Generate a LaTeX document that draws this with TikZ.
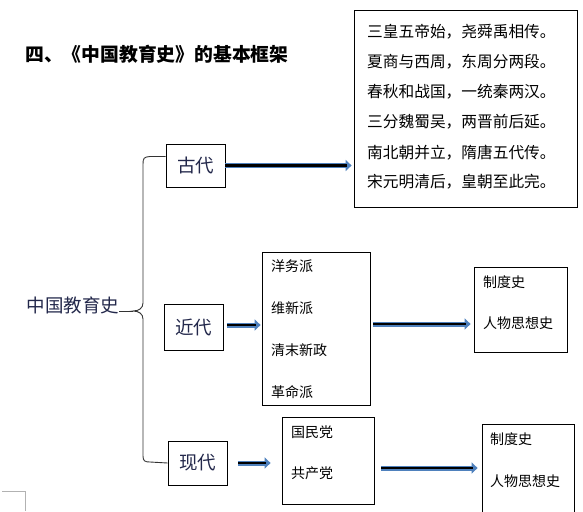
\documentclass[tikz,border=0pt]{standalone}
\usepackage{fontspec}
\newfontfamily\cjk{Noto Sans CJK SC}
\usetikzlibrary{arrows.meta}
\definecolor{arrowblue}{RGB}{79,129,189}
\definecolor{labelink}{RGB}{35,40,75}
\begin{document}
\begin{tikzpicture}[x=1pt, y=-1pt,
  box/.style={draw, line width=0.8pt, inner sep=0pt},
  era/.style={font=\cjk\fontsize{18.5}{20}\selectfont, text=labelink},
  item/.style={anchor=west, inner sep=0pt, font=\cjk\fontsize{14}{16}\selectfont},
  poem/.style={anchor=west, inner sep=0pt, font=\cjk\fontsize{15.7}{17}\selectfont},
  fatarrow/.style={line width=5pt, arrowblue, -{Triangle[length=6pt,width=11pt]}},
  arrowcore/.style={line width=2.8pt, black, shorten >=5pt},
  bracepen/.style={line width=0.9pt, black!80}]
\useasboundingbox (0,0) rectangle (583,511);
\node[anchor=west, inner sep=0pt, font=\cjk\bfseries\fontsize{18.8}{20}\selectfont] (title) at (25,54) {四、《中国教育史》的基本框架};
% left brace
\node[era, inner sep=0pt] (root) at (73,305) {中国教育史};
\node[box, era, minimum width=59, minimum height=43] (gudai) at (195.5,165.5) {古代};
\node[box, era, minimum width=59, minimum height=46] (jindai) at (193.5,327) {近代};
\node[box, era, minimum width=59, minimum height=44] (xiandai) at (197.5,463) {现代};
\coordinate (tip) at (133,311);
\draw[bracepen] ([yshift=9pt]gudai.west) -- (150,156.5) .. controls (144,157) and (143,158) .. (143,164) -- (143,303) .. controls (143,308) and (139,311) .. (tip) .. controls (139,311) and (143,314) .. (143,319) -- (143,456) .. controls (143,461) and (145,462) .. (150,462) -- (xiandai.west);
\draw[bracepen] (tip -| root.east) -- (tip);
% ancient
\node[box, minimum width=223, minimum height=197] (dyn) at (465.5,108.5) {};
\node[poem] (p1) at (367,32) {三皇五帝始，尧舜禹相传。};
\node[poem] (p2) at (367,62) {夏商与西周，东周分两段。};
\node[poem] (p3) at (367,92) {春秋和战国，一统秦两汉。};
\node[poem] (p4) at (367,122) {三分魏蜀吴，两晋前后延。};
\node[poem] (p5) at (367,153) {南北朝并立，隋唐五代传。};
\node[poem] (p6) at (367,182) {宋元明清后，皇朝至此完。};
\draw[fatarrow] (gudai.east) -- ([xshift=-2pt]gudai.east -| dyn.west);
\draw[arrowcore] (gudai.east) -- ([xshift=-2pt]gudai.east -| dyn.west);
% modern
\node[box, minimum width=108, minimum height=153] (jlist) at (316,328.5) {};
\node[item] (j1) at (271,266) {洋务派};
\node[item] (j2) at (271,308) {维新派};
\node[item] (j3) at (271,350) {清末新政};
\node[item] (j4) at (271,392) {革命派};
\node[box, minimum width=93, minimum height=85] (zd1) at (520.5,309.5) {};
\node[item] (z1a) at (483,282) {制度史};
\node[item] (z1b) at (483,323) {人物思想史};
\draw[fatarrow] ([xshift=4pt,yshift=2pt]jindai.east) -- ([xshift=-1pt,yshift=2pt]jindai.east -| jlist.west);
\draw[arrowcore] ([xshift=4pt,yshift=2pt]jindai.east) -- ([xshift=-1pt,yshift=2pt]jindai.east -| jlist.west);
\draw[fatarrow] ([xshift=3pt,yshift=4.5pt]jlist.east) -- ([xshift=-3pt,yshift=4.5pt]jlist.east -| zd1.west);
\draw[arrowcore] ([xshift=3pt,yshift=4.5pt]jlist.east) -- ([xshift=-3pt,yshift=4.5pt]jlist.east -| zd1.west);
% contemporary
\node[box, minimum width=92, minimum height=87] (xlist) at (328,460.5) {};
\node[item] (x1) at (291,432) {国民党};
\node[item] (x2) at (291,473) {共产党};
\node[box, minimum width=92, minimum height=96] (zd2) at (528,472) {};
\node[item] (z2a) at (490,439) {制度史};
\node[item] (z2b) at (490,481) {人物思想史};
\draw[fatarrow] ([xshift=11pt]xiandai.east) -- ([xshift=-11pt]xiandai.east -| xlist.west);
\draw[arrowcore] ([xshift=11pt]xiandai.east) -- ([xshift=-11pt]xiandai.east -| xlist.west);
\draw[fatarrow] ([xshift=7pt,yshift=-7.5pt]xlist.east) -- ([xshift=-4pt,yshift=-7.5pt]xlist.east -| zd2.west);
\draw[arrowcore] ([xshift=7pt,yshift=-7.5pt]xlist.east) -- ([xshift=-4pt,yshift=-7.5pt]xlist.east -| zd2.west);
% page corner mark
\draw[black!30, line width=0.8pt] (2,491) -- (25,491) -- (25,511);
\end{tikzpicture}
\end{document}
